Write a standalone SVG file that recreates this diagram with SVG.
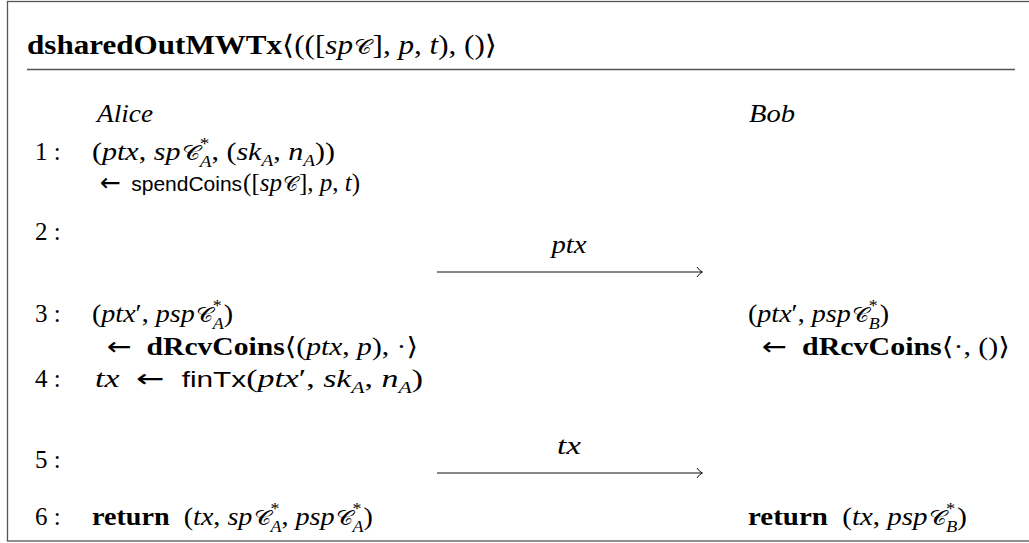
<svg xmlns="http://www.w3.org/2000/svg" width="1029" height="543" viewBox="0 0 1029 543">
<style>
text{font-family:"Liberation Serif",serif;font-size:25px;fill:#000}
.i{font-style:italic}
.b{font-weight:bold}
.s{font-family:"Liberation Sans",sans-serif;font-size:22px}
.sm{font-size:16px}
.c{font-family:"DejaVu Serif","DejaVu Sans",serif;font-size:21px}
.a{font-family:"DejaVu Sans",sans-serif;font-weight:normal}
.frame{fill:none;stroke:#555;stroke-width:1.3}
.msg{fill:none;stroke:#111;stroke-width:1}
</style>
<rect class="frame" x="7.5" y="1.5" width="1030" height="539.5"/>
<line class="frame" x1="27" y1="69.5" x2="1015" y2="69.5"/>
<g id="title">
<text x="27" y="54" style="font-size:27px" textLength="470" lengthAdjust="spacingAndGlyphs"><tspan class="b">dsharedOutMWTx</tspan><tspan class="a">⟨</tspan>(([<tspan class="i">sp</tspan><tspan class="c" dx="1">𝒞</tspan><tspan dx="1">], </tspan><tspan class="i">p</tspan>, <tspan class="i">t</tspan>), ()<tspan class="a">⟩</tspan></text>
</g>
<g id="alice"><text class="i" x="97" y="121.5" textLength="56" lengthAdjust="spacingAndGlyphs">Alice</text></g>
<g id="bob"><text class="i" x="749" y="121.5" textLength="46" lengthAdjust="spacingAndGlyphs">Bob</text></g>
<g id="step1">
<text x="35" y="160">1 :</text>
<text x="92" y="160" textLength="243" lengthAdjust="spacingAndGlyphs">(<tspan class="i">ptx</tspan>, <tspan class="i">sp</tspan><tspan class="c" dx="1">𝒞</tspan><tspan class="sm" dy="-11">*</tspan><tspan class="sm i" dx="-8" dy="18">A</tspan><tspan dy="-7">, (</tspan><tspan class="i">sk</tspan><tspan class="sm i" dy="6">A</tspan><tspan dy="-6">, </tspan><tspan class="i">n</tspan><tspan class="sm i" dy="6">A</tspan><tspan dy="-6">))</tspan></text>
<text x="100" y="191"><tspan class="a">←</tspan>&#160;<tspan class="s" dx="4" style="font-size:21px">spendCoins</tspan><tspan dx="1">([</tspan><tspan class="i">sp</tspan><tspan class="c" dx="1">𝒞</tspan><tspan dx="1">], </tspan><tspan class="i">p</tspan>, <tspan class="i">t</tspan>)</text>
</g>
<g id="step2">
<text x="35" y="240">2 :</text>
<text class="i" x="569" y="253" text-anchor="middle" textLength="35" lengthAdjust="spacingAndGlyphs">ptx</text>
</g>
<g id="step3">
<text x="35" y="322">3 :</text>
<text x="92" y="322" textLength="141" lengthAdjust="spacingAndGlyphs">(<tspan class="i">ptx</tspan>′, <tspan class="i">psp</tspan><tspan class="c" dx="1">𝒞</tspan><tspan class="sm" dy="-11">*</tspan><tspan class="sm i" dx="-8" dy="18">A</tspan><tspan dy="-7">)</tspan></text>
<text x="107" y="355" textLength="311" lengthAdjust="spacingAndGlyphs"><tspan class="a">←</tspan>&#160;&#160;<tspan class="b">dRcvCoins</tspan><tspan class="a">⟨</tspan>(<tspan class="i">ptx</tspan>, <tspan class="i">p</tspan>), ·<tspan class="a">⟩</tspan></text>
<text x="748" y="322" textLength="141" lengthAdjust="spacingAndGlyphs">(<tspan class="i">ptx</tspan>′, <tspan class="i">psp</tspan><tspan class="c" dx="1">𝒞</tspan><tspan class="sm" dy="-11">*</tspan><tspan class="sm i" dx="-8" dy="18">B</tspan><tspan dy="-7">)</tspan></text>
<text x="762" y="355" textLength="248" lengthAdjust="spacingAndGlyphs"><tspan class="a">←</tspan>&#160;&#160;<tspan class="b">dRcvCoins</tspan><tspan class="a">⟨</tspan>·, ()<tspan class="a">⟩</tspan></text>
</g>
<g id="step4">
<text x="35" y="387">4 :</text>
<text x="95" y="387" textLength="328" lengthAdjust="spacingAndGlyphs"><tspan class="i">tx</tspan>&#160;&#160;<tspan class="a">←</tspan>&#160;&#160;<tspan class="s">finTx</tspan>(<tspan class="i">ptx</tspan>′, <tspan class="i">sk</tspan><tspan class="sm i" dy="6">A</tspan><tspan dy="-6">, </tspan><tspan class="i">n</tspan><tspan class="sm i" dy="6">A</tspan><tspan dy="-6">)</tspan></text>
</g>
<g id="step5">
<text x="35" y="468">5 :</text>
<text class="i" x="569" y="454" text-anchor="middle" textLength="24" lengthAdjust="spacingAndGlyphs">tx</text>
</g>
<g id="step6">
<text x="35" y="525">6 :</text>
<text x="92" y="525" textLength="281" lengthAdjust="spacingAndGlyphs"><tspan class="b">return</tspan>&#160;&#160;(<tspan class="i">tx</tspan>, <tspan class="i">sp</tspan><tspan class="c" dx="1">𝒞</tspan><tspan class="sm" dy="-11">*</tspan><tspan class="sm i" dx="-8" dy="18">A</tspan><tspan dy="-7">, </tspan><tspan class="i">psp</tspan><tspan class="c" dx="1">𝒞</tspan><tspan class="sm" dy="-11">*</tspan><tspan class="sm i" dx="-8" dy="18">A</tspan><tspan dy="-7">)</tspan></text>
<text x="748" y="525" textLength="219" lengthAdjust="spacingAndGlyphs"><tspan class="b">return</tspan>&#160;&#160;(<tspan class="i">tx</tspan>, <tspan class="i">psp</tspan><tspan class="c" dx="1">𝒞</tspan><tspan class="sm" dy="-11">*</tspan><tspan class="sm i" dx="-8" dy="18">B</tspan><tspan dy="-7">)</tspan></text>
</g>
<g id="connectors">
<line class="msg" x1="437" y1="272" x2="702" y2="272"/>
<path class="msg" d="M697,267 Q699.5,271 702.5,272 Q699.5,273 697,277"/>
<line class="msg" x1="437" y1="473" x2="702" y2="473"/>
<path class="msg" d="M697,468 Q699.5,472 702.5,473 Q699.5,474 697,478"/>
</g>
</svg>
